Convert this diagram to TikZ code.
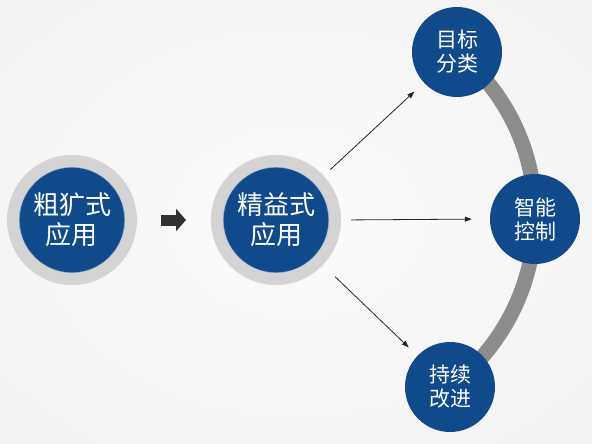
\documentclass[tikz,border=0pt]{standalone}
\usepackage{fontspec}
\newfontfamily\cjk{Noto Sans CJK SC}
\usetikzlibrary{arrows.meta, backgrounds}

\definecolor{appblue}{RGB}{16,74,138}
\definecolor{edgeblue}{RGB}{120,160,205}
\definecolor{ringgray}{RGB}{212,212,212}
\definecolor{arcgray}{RGB}{140,140,140}
\definecolor{arrowgray}{RGB}{50,50,50}

\pgfdeclareradialshading{bgshade}{\pgfpoint{0bp}{0bp}}{color(0bp)=(gray!3); color(50bp)=(gray!13); color(72bp)=(gray!19)}

\tikzset{
ringed/.style={circle, fill=appblue, draw=ringgray, line width=12pt,
minimum size=118pt, inner sep=0pt, text=white, align=center,
font=\cjk\fontsize{26}{30}\selectfont,
path picture={\draw[edgeblue, line width=1.2pt] (path picture bounding box.center) circle (53pt);}},
stage/.style={circle, fill=appblue, minimum size=90pt, inner sep=0pt,
text=white, align=center, font=\cjk\fontsize{21}{24}\selectfont}
}

\begin{document}
\begin{tikzpicture}[x=1pt, y=-1pt]

\useasboundingbox (0,0) rectangle (592,444);

\path
(72,220) node[ringed] (rough) {粗犷式\\应用}
(276,220) node[ringed] (lean) {精益式\\应用}
(457,52) node[stage] (goal) {目标\\分类}
(535,219) node[stage] (ctrl) {智能\\控制}
(450,387) node[stage] (improve) {持续\\改进}
;

\begin{pgfonlayer}{background}
\shade[shading=bgshade] (0,0) rectangle (592,444);
\draw[arcgray, line width=15pt] (goal.center) to[bend left=26, looseness=0.9]
(ctrl.center) to[bend left=26, looseness=0.9] (improve.center);
\end{pgfonlayer}

\draw[arrowgray, line width=11pt, -{Triangle[length=10pt, width=22pt]},
shorten <=24pt, shorten >=25pt] (rough) -- (lean);

\begin{scope}[-{Triangle[length=7pt, width=5pt]}, line width=0.8pt, black!85]
\draw[shorten <=9pt, shorten >=13pt] (lean) -- (goal);
\draw[shorten <=10pt, shorten >=18pt] (lean.east) -- (ctrl.west);
\draw[shorten <=17pt, shorten >=12pt] (lean) -- (improve);
\end{scope}

\end{tikzpicture}
\end{document}
